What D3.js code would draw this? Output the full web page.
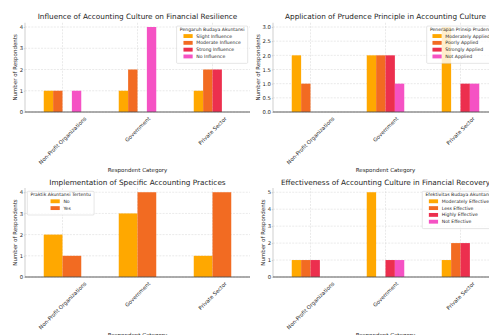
<!DOCTYPE html>
<html>
<head>
<meta charset="utf-8">
<script src="https://cdn.jsdelivr.net/npm/d3@7"></script>
<style>
  body { margin: 0; background: #fff; }
  svg { display: block; }
  text { font-family: "DejaVu Sans", sans-serif; fill: #262626; }
</style>
</head>
<body>
<svg id="chart" width="489" height="335"></svg>
<script>
// Shared categories and colours
const categories = ["Non-Profit Organizations", "Government", "Private Sector"];
const seriesColors = ["#FFA800", "#F26B22", "#EC2F4E", "#F552C4"];
const yAxisTitle = "Number of Respondents";
const xAxisTitle = "Respondent Category";

// Panel 1: influence on financial resilience
const influenceTitle = "Influence of Accounting Culture on Financial Resilience";
const influenceLegendTitle = "Pengaruh Budaya Akuntansi";
const influenceSeries = ["Slight Influence", "Moderate Influence", "Strong Influence", "No Influence"];
const influenceValues = [[1, 1, 1], [1, 2, 2], [0, 0, 2], [1, 4, 0]];
const influenceTicks = [0, 1, 2, 3, 4];

// Panel 2: prudence principle
const prudenceTitle = "Application of Prudence Principle in Accounting Culture";
const prudenceLegendTitle = "Penerapan Prinsip Prudensi";
const prudenceSeries = ["Moderately Applied", "Poorly Applied", "Strongly Applied", "Not Applied"];
const prudenceValues = [[2, 2, 3], [1, 2, 0], [0, 2, 1], [0, 1, 1]];
const prudenceTicks = [0, 0.5, 1, 1.5, 2, 2.5, 3];

// Panel 3: specific accounting practices
const practiceTitle = "Implementation of Specific Accounting Practices";
const practiceLegendTitle = "Praktik Akuntansi Tertentu";
const practiceSeries = ["No", "Yes"];
const practiceValues = [[2, 3, 1], [1, 4, 4]];
const practiceTicks = [0, 1, 2, 3, 4];

// Panel 4: effectiveness in financial recovery
const recoveryTitle = "Effectiveness of Accounting Culture in Financial Recovery";
const recoveryLegendTitle = "Efektivitas Budaya Akuntansi";
const recoverySeries = ["Moderately Effective", "Less Effective", "Highly Effective", "Not Effective"];
const recoveryValues = [[1, 5, 1], [1, 0, 2], [1, 1, 2], [0, 1, 0]];
const recoveryTicks = [0, 1, 2, 3, 4, 5];

const svg = d3.select("#chart");
svg.append("rect").attr("width", 489).attr("height", 335).attr("fill", "#fff");

const FS_TITLE = 7.3, FS_LABEL = 5.5, FS_TICK = 5.3, FS_LEG = 4.6;

function drawPanel(cfg) {
  const { left: L, right: R, top: T, bottom: B } = cfg.box;
  const g = svg.append("g");

  const x0 = d3.scaleBand().domain(categories).range([L, R]).paddingInner(0.5).paddingOuter(0.25);
  const x1 = d3.scaleBand().domain(cfg.series).range([0, x0.bandwidth()]);
  const maxV = d3.max(cfg.values.flat());
  const y = d3.scaleLinear().domain([0, maxV * 1.05]).range([B, T]);

  // grid
  const grid = g.append("g").attr("stroke", "#d4d4d4").attr("stroke-width", 0.5).attr("stroke-dasharray", "2,1.2");
  grid.selectAll("line.h").data(cfg.ticks).join("line")
    .attr("x1", L).attr("x2", R).attr("y1", d => y(d)).attr("y2", d => y(d));
  grid.selectAll("line.v").data(categories).join("line")
    .attr("x1", d => x0(d) + x0.bandwidth() / 2).attr("x2", d => x0(d) + x0.bandwidth() / 2)
    .attr("y1", T).attr("y2", B);

  // bars
  cfg.series.forEach((s, si) => {
    g.append("g").attr("fill", seriesColors[si])
      .selectAll("rect")
      .data(categories.map((c, ci) => ({ c, v: cfg.values[si][ci] })).filter(d => d.v > 0))
      .join("rect")
      .attr("x", d => x0(d.c) + x1(s))
      .attr("width", x1.bandwidth())
      .attr("y", d => y(d.v))
      .attr("height", d => B - y(d.v));
  });

  // spines
  g.append("line").attr("x1", L).attr("x2", L).attr("y1", T).attr("y2", B)
    .attr("stroke", "#b0b0b0").attr("stroke-width", 0.6);
  g.append("line").attr("x1", L).attr("x2", R).attr("y1", B).attr("y2", B)
    .attr("stroke", "#4d4d4d").attr("stroke-width", 0.9);

  // y axis
  const yAxis = g.append("g").attr("transform", `translate(${L},0)`)
    .call(d3.axisLeft(y).tickValues(cfg.ticks).tickSize(1.2).tickPadding(0.8).tickFormat(cfg.fmt));
  yAxis.select(".domain").remove();
  yAxis.selectAll(".tick line").attr("stroke", "#b0b0b0").attr("stroke-width", 0.5);
  yAxis.selectAll(".tick text").attr("font-size", FS_TICK).attr("font-family", "DejaVu Sans").attr("fill", "#333");
  let maxTickW = 0;
  yAxis.selectAll(".tick text").each(function () { maxTickW = Math.max(maxTickW, this.getComputedTextLength()); });

  // x axis with rotated labels
  const xAxis = g.append("g").attr("transform", `translate(0,${B})`)
    .call(d3.axisBottom(x0).tickSize(0).tickPadding(0));
  xAxis.select(".domain").remove();
  let maxBottom = 0;
  xAxis.selectAll(".tick text")
    .attr("font-size", FS_TICK).attr("font-family", "DejaVu Sans").attr("fill", "#333")
    .attr("y", 0).attr("dy", null).attr("text-anchor", "middle").attr("dominant-baseline", "central")
    .each(function () {
      const len = this.getComputedTextLength();
      const span = (len + FS_TICK * 1.1) * Math.SQRT1_2;
      const cy = 3.5 + span / 2;
      maxBottom = Math.max(maxBottom, 3.5 + span);
      d3.select(this).attr("transform", `translate(0,${cy}) rotate(-45)`);
    });

  // axis titles
  g.append("text").attr("x", (L + R) / 2).attr("y", B + maxBottom + 2 + FS_LABEL * 0.78)
    .attr("text-anchor", "middle").attr("font-size", FS_LABEL).text(xAxisTitle);
  const ylx = L - 2 - maxTickW - 2.5 - FS_LABEL * 0.45;
  g.append("text").attr("transform", `translate(${ylx},${(T + B) / 2}) rotate(-90)`)
    .attr("text-anchor", "middle").attr("dominant-baseline", "central")
    .attr("font-size", FS_LABEL).text(yAxisTitle);

  // panel title
  g.append("text").attr("x", (L + R) / 2).attr("y", T - 3.4)
    .attr("text-anchor", "middle").attr("font-size", FS_TITLE).text(cfg.title);

  // legend
  const leg = g.append("g");
  const frame = leg.append("rect");
  const titleT = leg.append("text").attr("font-size", FS_LEG).attr("text-anchor", "middle")
    .attr("dominant-baseline", "central").text(cfg.legendTitle);
  const titleW = titleT.node().getComputedTextLength();
  const handleW = 2 * FS_LEG, gap = 0.8 * FS_LEG, rowH = 6.8, pad = 3.2;
  const items = cfg.series.map((s, i) => {
    const t = leg.append("text").attr("font-size", FS_LEG).attr("dominant-baseline", "central").text(s);
    return { t, w: t.node().getComputedTextLength(), i };
  });
  const blockW = handleW + gap + d3.max(items, d => d.w);
  const innerW = Math.max(titleW, blockW);
  const boxW = innerW + 2 * pad;
  const boxH = pad + rowH * (cfg.series.length + 1) - 1.5 + pad * 0.5;
  const bx = cfg.legendSide === "left" ? L + 2.3 : R - 2.3 - boxW;
  const by = T + 3.3;
  frame.attr("x", bx).attr("y", by).attr("width", boxW).attr("height", boxH).attr("rx", 1)
    .attr("fill", "#fff").attr("fill-opacity", 0.8).attr("stroke", "#cccccc").attr("stroke-width", 0.5);
  titleT.attr("x", bx + boxW / 2).attr("y", by + pad);
  const blockX = bx + pad + (innerW - blockW) / 2;
  items.forEach(({ t, i }) => {
    const cy = by + pad + rowH * (i + 1);
    leg.append("rect").attr("x", blockX).attr("y", cy - FS_LEG * 0.42)
      .attr("width", handleW).attr("height", FS_LEG * 0.84).attr("fill", seriesColors[i]);
    t.attr("x", blockX + handleW + gap).attr("y", cy);
  });
}

const topRow = { top: 22.75, bottom: 112 };
const bottomRow = { top: 188, bottom: 277 };
const leftCol = { left: 25, right: 250 };
const rightCol = { left: 273, right: 498 };
const intFmt = d3.format("d");
const oneDecimal = d3.format(".1f");

drawPanel({ box: { ...leftCol, ...topRow }, title: influenceTitle, legendTitle: influenceLegendTitle,
  series: influenceSeries, values: influenceValues, ticks: influenceTicks, fmt: intFmt, legendSide: "right" });
drawPanel({ box: { ...rightCol, ...topRow }, title: prudenceTitle, legendTitle: prudenceLegendTitle,
  series: prudenceSeries, values: prudenceValues, ticks: prudenceTicks, fmt: oneDecimal, legendSide: "right" });
drawPanel({ box: { ...leftCol, ...bottomRow }, title: practiceTitle, legendTitle: practiceLegendTitle,
  series: practiceSeries, values: practiceValues, ticks: practiceTicks, fmt: intFmt, legendSide: "left" });
drawPanel({ box: { ...rightCol, ...bottomRow }, title: recoveryTitle, legendTitle: recoveryLegendTitle,
  series: recoverySeries, values: recoveryValues, ticks: recoveryTicks, fmt: intFmt, legendSide: "right" });
</script>
</body>
</html>
